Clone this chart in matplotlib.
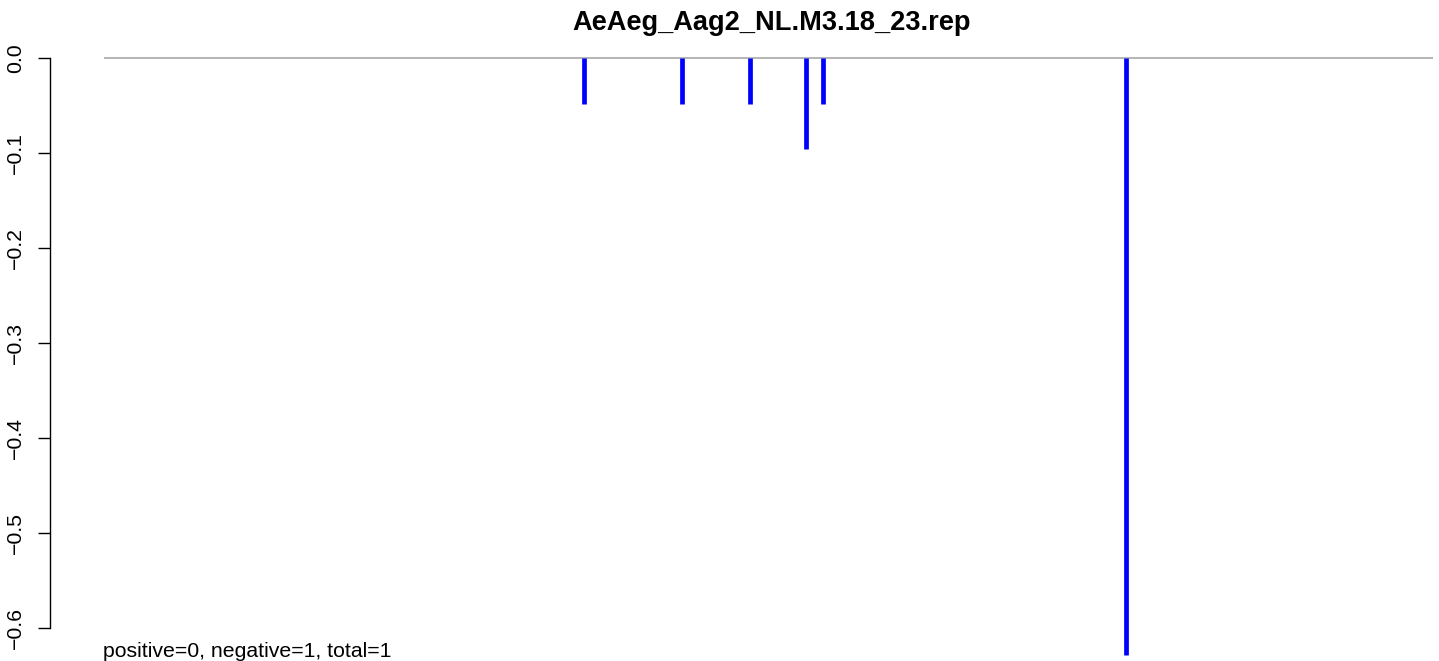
import numpy as np
import matplotlib.pyplot as plt

# data
title = 'AeAeg_Aag2_NL.M3.18_23.rep'
positions = [480, 578, 646, 702, 719, 1022]
values = [-0.048, -0.048, -0.048, -0.096, -0.048, -0.628]
seq_len = 1329
y_ticks = [0.0, -0.1, -0.2, -0.3, -0.4, -0.5, -0.6]
note = 'positive=0, negative=1, total=1'

plt.rcParams['font.family'] = ['Liberation Sans', 'DejaVu Sans']

W, H = 1439, 661
fig = plt.figure(figsize=(W / 100, H / 100), dpi=100)

# axes box in pixels: left 50 .. right 1433, top 30 .. bottom 661
ax = fig.add_axes([50 / W, 0, (1433 - 50) / W, (661 - 30) / H])
ax.set_xlim(-54, seq_len)
ax.set_ylim(-(661 - 58.3) / 950, (58.3 - 30) / 950)

ax.hlines(0, 0, seq_len, color='#a0a0a0', lw=1.1, zorder=1)
ax.vlines(positions, 0, values, color='blue', lw=3.4, zorder=2)

for s in ['top', 'right', 'bottom']:
    ax.spines[s].set_visible(False)
ax.spines['left'].set_bounds(-0.6, 0)
ax.spines['left'].set_linewidth(1.0)
ax.set_xticks([])
ax.set_yticks(y_ticks)
ax.set_yticklabels(['%.1f' % v if v == 0 else '\u2212%.1f' % abs(v) for v in y_ticks],
                   rotation=90, va='center', fontsize=15.3)
ax.tick_params(axis='y', length=8.6, width=1.0, pad=9.5)

fig.text(771.5 / W, 1 - 30 / H, title, ha='center', va='baseline',
         fontsize=19.6, fontweight='bold')
fig.text(103 / W, 1 - 657 / H, note, ha='left', va='baseline', fontsize=15.3)

plt.savefig('out.png', dpi=100)
